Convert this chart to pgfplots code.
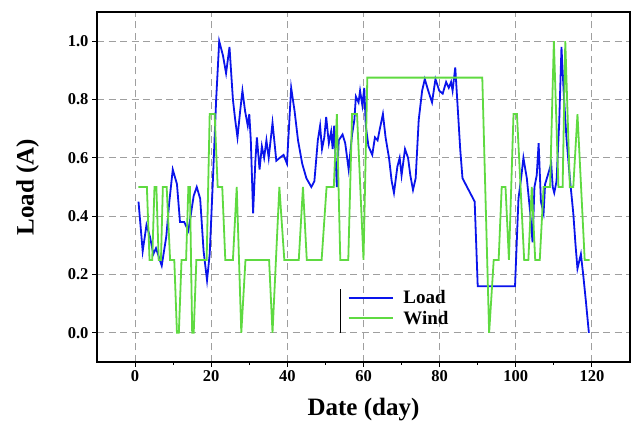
\documentclass[border=0pt]{standalone}
\usepackage{pgfplots}
\pgfplotsset{compat=1.18}
\usepackage{fontspec}
\setmainfont{Liberation Serif}
\usetikzlibrary{calc}
\definecolor{loadblue}{RGB}{10,20,235}
\definecolor{windgreen}{RGB}{95,218,65}
\begin{document}
\begin{tikzpicture}
\begin{axis}[
  scale only axis,
  width=533pt, height=350pt,
  xmin=-10, xmax=130, ymin=-0.1, ymax=1.1,
  xtick={0,20,...,120}, minor xtick={10,30,...,110},
  ytick={0,0.2,...,1.0},
  xtick pos=bottom, ytick pos=left,
  tick align=outside,
  major tick length=5pt, minor tick length=3pt,
  axis line style={line width=1.3pt},
  every tick/.style={black, line width=1.1pt},
  grid=major,
  major grid style={gray!75, line width=0.9pt, dash pattern=on 7pt off 4.5pt},
  /pgf/number format/assume math mode=true,
  yticklabel style={/pgf/number format/fixed, /pgf/number format/fixed zerofill, /pgf/number format/precision=1},
  ticklabel style={font=\fontsize{16.5}{19}\selectfont\bfseries},
  xlabel={Date (day)}, ylabel={Load (A)},
  label style={font=\fontsize{25}{30}\selectfont\bfseries},
  xlabel style={yshift=-10pt},
  ylabel style={yshift=22pt},
  legend style={at={(axis cs:55,0.16)}, anchor=north west, draw=none, fill=none,
    font=\fontsize{19}{22}\selectfont\bfseries, row sep=2pt},
  legend cell align=left,
  legend image code/.code={\draw[#1, line width=1.8pt] (0pt,0pt) -- (44pt,0pt); \path (52pt,0pt);},
]
\addplot[loadblue, line width=1.8pt] coordinates {
(0.9,0.45)(2.0,0.28)(3.0,0.37)(3.9,0.33)(4.8,0.27)(5.5,0.29)(7.0,0.23)(8.2,0.33)(9.0,0.45)(9.9,0.56)(11.0,0.51)(11.8,0.38)(12.9,0.38)(14.0,0.35)(15.4,0.47)(16.2,0.50)(17.1,0.46)(18.0,0.28)(18.9,0.18)(19.6,0.27)(20.4,0.51)(21.3,0.80)(22.1,1.00)(23.1,0.95)(23.9,0.89)(24.8,0.98)(25.7,0.80)(26.3,0.73)(26.9,0.67)(27.6,0.76)(28.2,0.83)(28.9,0.76)(29.6,0.71)(30.0,0.75)(30.4,0.66)(31.0,0.41)(31.6,0.59)(32.0,0.67)(32.7,0.56)(33.3,0.64)(33.9,0.60)(34.5,0.66)(35.1,0.60)(36.1,0.72)(37.1,0.59)(38.0,0.60)(39.0,0.61)(39.9,0.58)(41.0,0.84)(41.9,0.76)(42.8,0.66)(43.9,0.58)(45.0,0.53)(46.3,0.50)(47.1,0.52)(48.0,0.66)(48.6,0.71)(49.1,0.63)(49.7,0.67)(50.2,0.74)(50.9,0.65)(51.5,0.69)(51.9,0.63)(52.3,0.71)(53.0,0.50)(53.5,0.66)(54.5,0.68)(55.2,0.65)(56.1,0.56)(57.0,0.68)(57.6,0.73)(58.0,0.81)(58.7,0.79)(59.1,0.83)(59.7,0.78)(60.2,0.84)(60.6,0.71)(61.3,0.64)(62.3,0.61)(63.0,0.67)(63.7,0.66)(64.3,0.70)(65.1,0.75)(65.8,0.67)(66.7,0.60)(67.4,0.52)(68.0,0.48)(68.9,0.57)(69.5,0.60)(70.0,0.54)(70.9,0.63)(71.7,0.60)(72.3,0.54)(73.0,0.49)(73.7,0.53)(74.5,0.73)(75.4,0.83)(76.1,0.87)(77.0,0.83)(78.0,0.79)(78.9,0.87)(79.9,0.83)(80.8,0.82)(81.7,0.86)(82.4,0.84)(83.0,0.86)(83.4,0.83)(84.1,0.91)(84.8,0.76)(85.4,0.63)(86.0,0.53)(87.2,0.50)(88.0,0.48)(89.2,0.45)(90.0,0.16)(99.8,0.16)(100.7,0.46)(101.4,0.53)(102.0,0.60)(102.9,0.53)(103.8,0.41)(104.4,0.31)(104.9,0.50)(105.5,0.54)(106.0,0.65)(106.6,0.45)(107.3,0.41)(107.7,0.51)(108.4,0.54)(109.3,0.58)(109.7,0.50)(110.1,0.48)(110.7,0.52)(111.4,0.72)(112.0,0.98)(112.6,0.82)(113.3,0.67)(114.2,0.53)(115.1,0.41)(115.7,0.30)(116.2,0.22)(117.1,0.27)(117.7,0.20)(118.4,0.11)(119.2,0.00)
};
\addlegendentry{Load}
\addplot[windgreen, line width=1.8pt] coordinates {
(0.9,0.5)(3.1,0.5)(3.8,0.25)(4.5,0.25)(5.1,0.5)(5.6,0.5)(6.2,0.25)(6.8,0.25)(7.3,0.5)(8.3,0.5)(9.2,0.25)(10.3,0.25)(11.0,0)(11.5,0)(12.2,0.25)(13.4,0.25)(14.0,0.5)(14.4,0.5)(15.0,0)(15.4,0)(16.1,0.25)(18.8,0.25)(19.6,0.75)(20.9,0.75)(21.7,0.5)(22.9,0.5)(23.7,0.25)(25.7,0.25)(26.7,0.5)(27.9,0)(29.0,0.25)(35.2,0.25)(36.1,0)(37.9,0.5)(39.2,0.25)(43.0,0.25)(44.1,0.5)(45.1,0.25)(49.0,0.25)(50.3,0.5)(52.2,0.5)(53.0,0.75)(53.9,0.25)(56.0,0.25)(57.0,0.75)(58.3,0.75)(60.0,0.25)(61.0,0.875)(91.2,0.875)(93.0,0)(94.2,0.25)(95.5,0.25)(96.3,0.5)(97.3,0.5)(98.2,0.25)(99.4,0.75)(100.3,0.75)(102.2,0.25)(103.3,0.25)(104.2,0.5)(105.1,0.25)(106.3,0.25)(107.3,0.5)(109.0,0.5)(110.0,1.0)(111.2,0.5)(112.3,0.5)(113.0,1.0)(114.2,0.5)(115.1,0.5)(116.2,0.75)(118.1,0.25)(119.4,0.25)
};
\addlegendentry{Wind}
\draw[black, line width=0.8pt] (axis cs:54,0.0) -- (axis cs:54,0.15);
\end{axis}
\pgfresetboundingbox
\path ($(current axis.south west)+(-97pt,-65pt)$) rectangle ($(current axis.north east)+(3pt,12pt)$);
\end{tikzpicture}
\end{document}
